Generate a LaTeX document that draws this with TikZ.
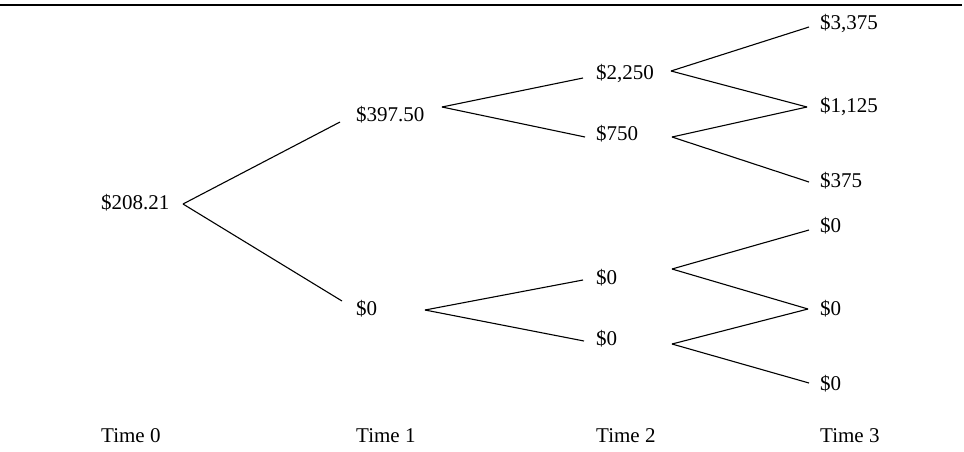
\documentclass[tikz,border=0pt]{standalone}
\usepackage{fontspec}
\setmainfont{Liberation Serif}
\tikzset{
  val/.style={inner sep=0pt, anchor=base west, font=\fontsize{21}{24}\selectfont},
  edge/.style={line width=1.1pt, black},
  rule/.style={line width=2.6pt, black}
}
\begin{document}
\begin{tikzpicture}[x=1pt,y=-1pt]
\useasboundingbox (0,0) rectangle (964,451);
\coordinate (rl) at (0,5);
\coordinate (rr) at (962,5);
\draw[rule] (rl) -- (rr);

\node[val] (t0)  at (101,209) {\$208.21};
\node[val] (t1u) at (356,121) {\$397.50};
\node[val] (t1d) at (356,315) {\$0};
\node[val] (t2a) at (596,79)  {\$2,250};
\node[val] (t2b) at (596,140) {\$750};
\node[val] (t2c) at (596,284) {\$0};
\node[val] (t2d) at (596,345) {\$0};
\node[val] (t3a) at (820,29)  {\$3,375};
\node[val] (t3b) at (820,112) {\$1,125};
\node[val] (t3c) at (820,187) {\$375};
\node[val] (t3d) at (820,232) {\$0};
\node[val] (t3e) at (820,315) {\$0};
\node[val] (t3f) at (820,390) {\$0};

\node[val] (time0) at (101,442) {Time 0};
\node[val] (time1) at (356,442) {Time 1};
\node[val] (time2) at (596,442) {Time 2};
\node[val] (time3) at (820,442) {Time 3};

\draw[edge] ([shift={(82,-5)}]t0.base west) -- ([shift={(-16,1)}]t1u.base west);
\draw[edge] ([shift={(82,-5)}]t0.base west) -- ([shift={(-14,-14)}]t1d.base west);

\draw[edge] ([shift={(86,-14)}]t1u.base west) -- ([shift={(-13,-1)}]t2a.base west);
\draw[edge] ([shift={(86,-14)}]t1u.base west) -- ([shift={(-11,-3)}]t2b.base west);
\draw[edge] ([shift={(69,-5)}]t1d.base west) -- ([shift={(-13,-4)}]t2c.base west);
\draw[edge] ([shift={(69,-5)}]t1d.base west) -- ([shift={(-12,-4)}]t2d.base west);

\draw[edge] ([shift={(75,-8)}]t2a.base west) -- ([shift={(-11,-2)}]t3a.base west);
\draw[edge] ([shift={(75,-8)}]t2a.base west) -- ([shift={(-13,-5)}]t3b.base west);
\draw[edge] ([shift={(76,-3)}]t2b.base west) -- ([shift={(-13,-5)}]t3b.base west);
\draw[edge] ([shift={(76,-3)}]t2b.base west) -- ([shift={(-11,-5)}]t3c.base west);
\draw[edge] ([shift={(76,-15)}]t2c.base west) -- ([shift={(-11,-2)}]t3d.base west);
\draw[edge] ([shift={(76,-15)}]t2c.base west) -- ([shift={(-12,-6)}]t3e.base west);
\draw[edge] ([shift={(76,-1)}]t2d.base west) -- ([shift={(-12,-6)}]t3e.base west);
\draw[edge] ([shift={(76,-1)}]t2d.base west) -- ([shift={(-11,-7)}]t3f.base west);
\end{tikzpicture}
\end{document}
